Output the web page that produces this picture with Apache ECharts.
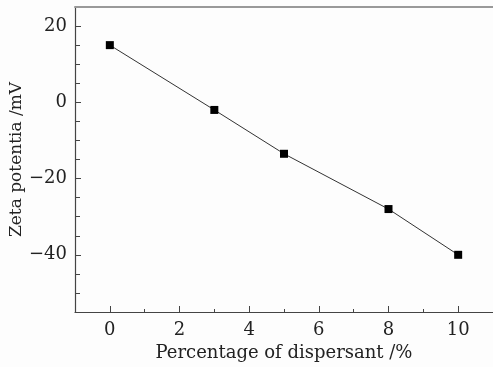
<!DOCTYPE html>
<html>
<head>
<meta charset="utf-8">
<script src="https://cdn.jsdelivr.net/npm/echarts@6/dist/echarts.min.js"></script>
<style>
  html, body { margin: 0; padding: 0; background: #fdfdfd; }
  #chart { width: 493px; height: 367px; }
</style>
</head>
<body>
<div id="chart"></div>
<script>
// dispersant percentage vs zeta potential
const dispersant = [0, 3, 5, 8, 10];
const zeta = [15, -2, -13.5, -28, -40];

const xMajor = [0, 2, 4, 6, 8, 10];
const xMinor = [1, 3, 5, 7, 9];
const yMajor = [-40, -20, 0, 20];
const yMinor = [-50, -45, -35, -30, -25, -15, -10, -5, 5, 10, 15];

const font = "DejaVu Serif";
const axisColor = "#444";

const chart = echarts.init(document.getElementById("chart"));

const option = {
  backgroundColor: "#fdfdfd",
  animation: false,
  grid: { left: 75, right: 0, top: 7, bottom: 55, outerBoundsMode: "none", containLabel: false },
  xAxis: [
    {
      type: "value",
      min: -1,
      max: 11,
      name: "Percentage of dispersant /%",
      nameLocation: "middle",
      nameGap: 32,
      nameMoveOverlap: false,
      nameTextStyle: { fontFamily: font, fontSize: 18, color: "#222" },
      axisLine: { onZero: false, lineStyle: { color: axisColor, width: 1.2 } },
      axisTick: {
        inside: true,
        length: 6,
        customValues: xMajor,
        lineStyle: { color: axisColor }
      },
      axisLabel: {
        customValues: xMajor,
        margin: 9,
        fontFamily: font,
        fontSize: 18,
        color: "#222"
      },
      splitLine: { show: false }
    },
    {
      // minor ticks
      type: "value",
      min: -1,
      max: 11,
      position: "bottom",
      axisLine: { show: false, onZero: false },
      axisTick: {
        inside: true,
        length: 3,
        customValues: xMinor,
        lineStyle: { color: axisColor }
      },
      axisLabel: { show: false },
      splitLine: { show: false }
    },
    {
      // top frame line
      type: "value",
      min: -1,
      max: 11,
      position: "top",
      axisLine: { onZero: false, lineStyle: { color: "#999", width: 2 } },
      axisTick: { show: false },
      axisLabel: { show: false },
      splitLine: { show: false }
    }
  ],
  yAxis: [
    {
      type: "value",
      min: -55,
      max: 25,
      name: "Zeta potentia /mV",
      nameLocation: "middle",
      nameGap: 50,
      nameMoveOverlap: false,
      nameTextStyle: { fontFamily: font, fontSize: 17, color: "#222" },
      axisLine: { show: true, onZero: false, lineStyle: { color: axisColor, width: 1.2 } },
      axisTick: {
        inside: true,
        length: 6,
        customValues: yMajor,
        lineStyle: { color: axisColor }
      },
      axisLabel: {
        customValues: yMajor,
        margin: 8,
        fontFamily: font,
        fontSize: 18,
        color: "#222",
        formatter: (v) => (v < 0 ? "\u2212" + Math.abs(v) : String(v))
      },
      splitLine: { show: false }
    },
    {
      type: "value",
      min: -55,
      max: 25,
      position: "left",
      axisLine: { show: false, onZero: false },
      axisTick: {
        inside: true,
        length: 5,
        customValues: yMinor,
        lineStyle: { color: axisColor }
      },
      axisLabel: { show: false },
      splitLine: { show: false }
    }
  ],
  series: [
    {
      type: "line",
      data: dispersant.map((x, i) => [x, zeta[i]]),
      symbol: "rect",
      symbolSize: 8,
      itemStyle: { color: "#000" },
      lineStyle: { color: "#333", width: 1 }
    }
  ]
};

chart.setOption(option);
</script>
</body>
</html>
